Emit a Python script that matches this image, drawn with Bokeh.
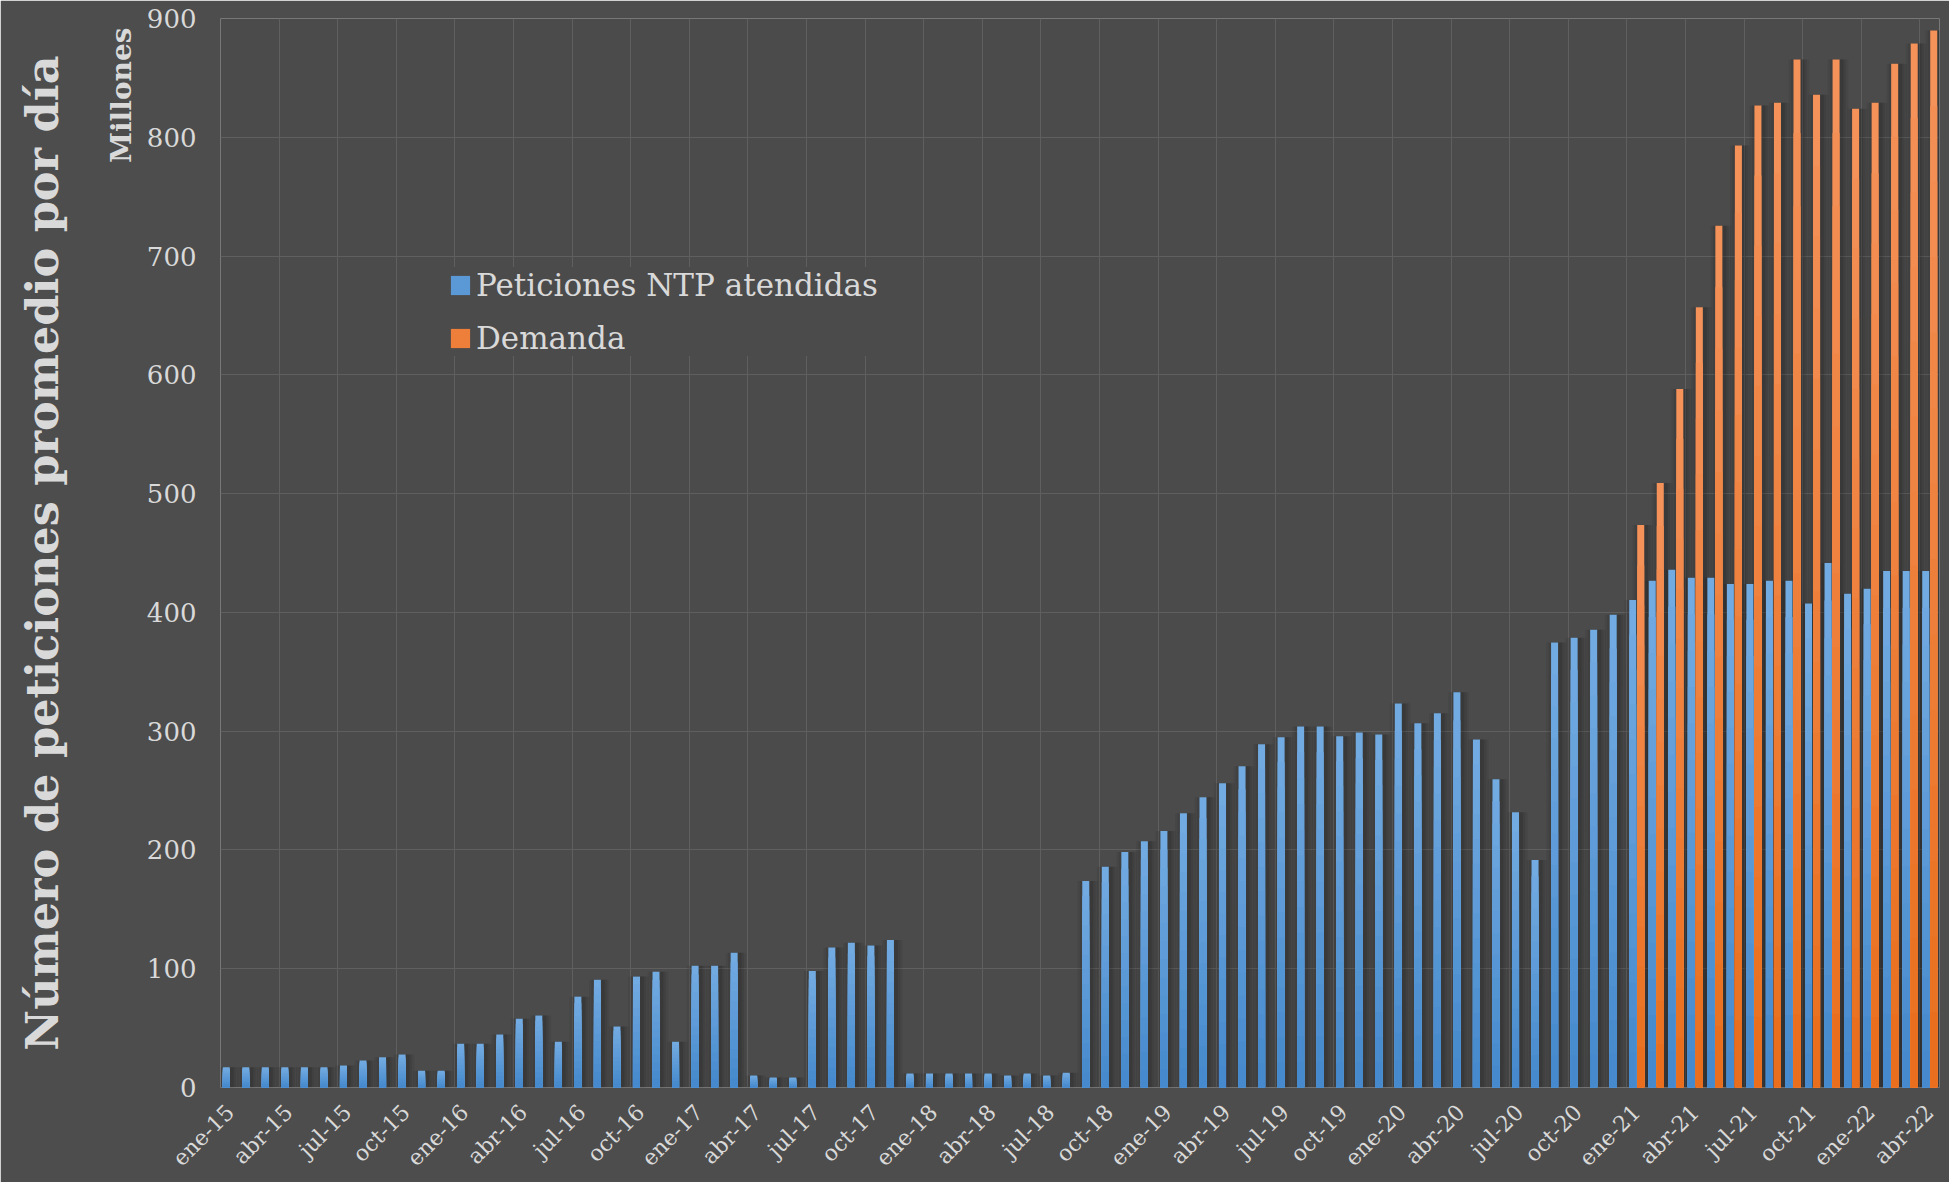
import math
import numpy as np
from bokeh.plotting import figure
from bokeh.models import FixedTicker, Grid, Legend, LegendItem, Range1d, Title, LinearAxis
from bokeh.embed import file_html
from bokeh.resources import INLINE

# ---------------- data ----------------
MESES = ["ene", "feb", "mar", "abr", "may", "jun", "jul", "ago", "sep", "oct", "nov", "dic"]
ANIOS = ["15", "16", "17", "18", "19", "20", "21", "22"]
meses = [f"{m}-{a}" for a in ANIOS for m in MESES][:88]   # ene-15 ... abr-22

# Peticiones NTP atendidas (millones / día)
peticiones = [
    17.0, 17.0, 17.0, 17.0, 17.0, 17.0, 18.6, 22.7, 25.4, 27.7, 14.2, 14.2,          # 2015
    36.9, 36.9, 44.7, 57.9, 60.6, 38.6, 76.5, 90.7, 51.4, 93.4, 97.5, 38.6,          # 2016
    102.5, 102.5, 113.4, 10.2, 8.5, 8.5, 98.1, 117.8, 121.8, 119.5, 124.2, 11.8,     # 2017
    11.8, 11.8, 11.8, 11.8, 10.2, 11.8, 10.2, 12.5, 173.9, 185.8, 198.3, 207.4,      # 2018
    215.9, 230.8, 244.3, 256.2, 270.4, 289.0, 294.8, 303.9, 303.9, 295.8, 298.8, 297.1,  # 2019
    323.2, 306.6, 315.0, 332.7, 293.0, 259.6, 231.8, 191.5, 374.6, 378.7, 385.4, 398.0,  # 2020
    410.5, 426.7, 435.9, 429.1, 429.1, 424.0, 424.0, 426.7, 426.7, 407.4, 441.6, 415.6,  # 2021
    420.0, 434.9, 434.9, 434.9,                                                        # 2022
]

# Demanda (millones / día), desde ene-21
demanda_desde = "ene-21"
demanda = [473.5, 509.0, 588.0, 657.0, 725.5, 793.0, 826.8, 829.0, 865.5, 835.8, 865.5, 824.0,
           829.0, 862.0, 879.0, 890.0]

y_ticks = [0, 100, 200, 300, 400, 500, 600, 700, 800, 900]
x_tick_step = 3

serie_nombres = ["Peticiones NTP atendidas", "Demanda"]
titulo_eje = "Número de peticiones promedio por día"
unidades = "Millones"

# ---------------- styles ----------------
BG_PLOT = "#4b4b4b"
BG_PAGE = "#4d4d4d"
GRID = "#5f5f5f"
TXT = "#d9d9d9"
FONT = "DejaVu Serif"
BLUE_TOP, BLUE_BOT = (0x74, 0xac, 0xe2), (0x44, 0x88, 0xcc)
ORNG_TOP, ORNG_BOT = (0xf4, 0x93, 0x5c), (0xe9, 0x6e, 0x1c)
BAR_W = 0.36
OFF = 0.205
K = 14

n = len(meses)
i0 = meses.index(demanda_desde)
pet = np.array(peticiones, dtype=float)
dem = np.array([np.nan] * i0 + demanda, dtype=float)
x = np.arange(n, dtype=float)

p = figure(width=1949, height=1182, x_range=Range1d(-0.5, n - 0.5), y_range=Range1d(0, 900),
           output_backend="svg", toolbar_location=None,
           min_border_left=220, min_border_right=10, min_border_top=18, min_border_bottom=94)
p.background_fill_color = BG_PLOT
p.border_fill_color = BG_PAGE
p.outline_line_color = None

# grids
p.xgrid.visible = False
p.add_layout(Grid(dimension=0, ticker=FixedTicker(ticks=[i - 0.5 for i in range(0, n, x_tick_step)]),
                  grid_line_color=GRID, grid_line_width=1))
p.ygrid.ticker = FixedTicker(ticks=y_ticks)
p.ygrid.grid_line_color = GRID
p.ygrid.grid_line_width = 1


def hexc(c):
    return "#%02x%02x%02x" % tuple(int(round(v)) for v in c)


def draw_shadow(xs, vals):
    for extra, alpha in [(0.7, 0.06), (0.45, 0.08), (0.2, 0.10)]:
        p.vbar(x=xs + 0.1, top=vals, bottom=0, width=BAR_W + extra, fill_color="black",
               fill_alpha=alpha, line_color=None)


def draw_series(xs, vals, top_c, bot_c):
    rends = []
    for k in range(K - 1, -1, -1):
        t = (k + 0.5) / K
        col = tuple(b + (tc - b) * t for b, tc in zip(bot_c, top_c))
        r = p.vbar(x=xs, top=vals * (k + 1) / K, bottom=0, width=BAR_W,
                   fill_color=hexc(col), line_color=None)
        rends.append(r)
    return rends


draw_shadow(x - OFF, pet)
draw_shadow(x + OFF, dem)
rb = draw_series(x - OFF, pet, BLUE_TOP, BLUE_BOT)
ro = draw_series(x + OFF, dem, ORNG_TOP, ORNG_BOT)

# axes
xa = p.xaxis[0]
xa.ticker = FixedTicker(ticks=list(range(0, n, x_tick_step)))
xa.major_label_overrides = {i: meses[i] for i in range(0, n, x_tick_step)}
xa.major_label_orientation = math.pi / 4
xa.major_label_text_font = FONT
xa.major_label_text_font_size = "22px"
xa.major_label_text_color = TXT
xa.major_label_standoff = 21
xa.axis_line_color = None
xa.major_tick_line_color = None
xa.minor_tick_line_color = None
xa.major_tick_out = 0
xa.major_tick_in = 0

ya = p.yaxis[0]
ya.ticker = FixedTicker(ticks=y_ticks)
ya.major_label_text_font = FONT
ya.major_label_text_font_size = "26px"
ya.major_label_text_color = TXT
ya.major_label_standoff = 24
ya.axis_line_color = None
ya.major_tick_line_color = None
ya.minor_tick_line_color = None
ya.major_tick_out = 0
ya.major_tick_in = 0

# "Millones" next to the top of the axis
p.add_layout(Title(text=unidades, align="right", vertical_align="bottom", offset=9, standoff=12,
                   text_font=FONT, text_font_style="bold", text_font_size="28px",
                   text_color=TXT), "left")

# big axis title further out: label of a tick-less axis
ya2 = LinearAxis(ticker=FixedTicker(ticks=[]), axis_label=titulo_eje,
                 axis_line_color=None, major_tick_line_color=None, minor_tick_line_color=None,
                 major_tick_out=0, major_tick_in=0, minor_tick_out=0, minor_tick_in=0,
                 major_label_standoff=0, major_label_text_font_size="0px",
                 axis_label_standoff=28, axis_label_text_font=FONT,
                 axis_label_text_font_style="bold", axis_label_text_font_size="44.6px",
                 axis_label_text_color=TXT)
p.add_layout(ya2, "left")

legend = Legend(items=[LegendItem(label=serie_nombres[0], renderers=[rb[K // 2]]),
                       LegendItem(label=serie_nombres[1], renderers=[ro[K // 2]])],
                location=(228, 731), orientation="vertical",
                background_fill_color=BG_PLOT, background_fill_alpha=1.0,
                border_line_color=None, label_text_font=FONT, label_text_font_size="31px",
                label_text_color=TXT, glyph_width=24, glyph_height=24, spacing=17,
                padding=6, margin=0, label_standoff=4)
p.add_layout(legend)

open("out.html", "w").write(file_html(p, INLINE))
